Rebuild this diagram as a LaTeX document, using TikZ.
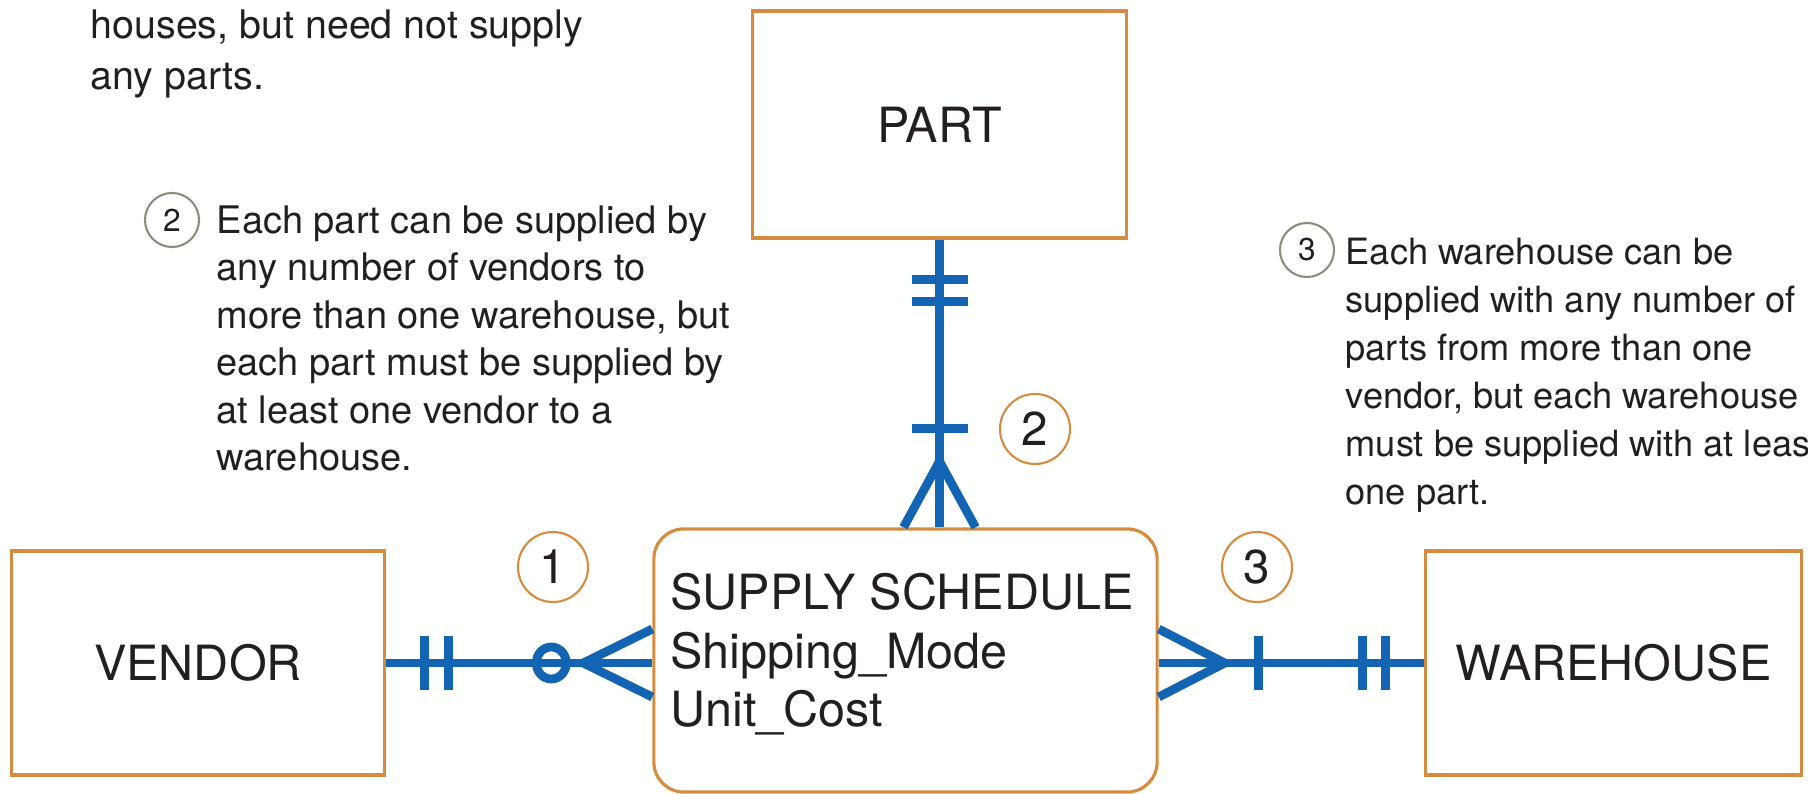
\documentclass[tikz,border=0pt]{standalone}
\usepackage{fontspec}
\setmainfont{TeX Gyre Heros}
\usetikzlibrary{calc}

\definecolor{erblue}{RGB}{20,100,180}
\definecolor{erorange}{RGB}{214,140,64}
\definecolor{notegray}{RGB}{140,140,128}
\definecolor{ink}{RGB}{35,31,32}

\tikzset{
  entity/.style={draw=erorange, line width=0.9pt, text=ink,
    font=\fontsize{13.8}{16.6}\selectfont},
  rel/.style={draw=erblue, line width=2.5pt, line join=round},
  num/.style={circle, draw=erorange, line width=0.6pt, minimum size=0.7cm,
    inner sep=0pt, text=ink, font=\fontsize{13.5}{16}\selectfont},
  notenum/.style={circle, draw=notegray, line width=0.6pt, minimum size=0.54cm,
    inner sep=0pt, text=ink, font=\fontsize{9}{11}\selectfont},
  note/.style={anchor=north west, inner sep=0pt, align=left, text=ink,
    font=\fontsize{10.8}{13.5}\selectfont}
}

\begin{document}
\begin{tikzpicture}[x=0.01cm, y=-0.01cm]
  \path[use as bounding box, fill=white] (0,0) rectangle (1808,794);

  % entities
  \node[entity, minimum width=3.73cm, minimum height=2.27cm] (part) at (939.5,124.5) {PART};
  \node[entity, minimum width=3.73cm, minimum height=2.24cm] (vendor) at (198,663) {VENDOR};
  \node[entity, minimum width=3.75cm, minimum height=2.24cm] (warehouse) at (1613.5,663) {WAREHOUSE};
  \node[entity, rounded corners=0.3cm, minimum width=5.03cm, minimum height=2.63cm] (sched) at (905.5,660.5) {};
  \node[entity, draw=none, anchor=north west, inner sep=0pt, align=left] (schedtxt) at (669,572)
    {SUPPLY SCHEDULE\\Shipping\_Mode\\Unit\_Cost};

  % relationship lines
  \coordinate (ps) at (part.south |- sched.north);
  \coordinate (vs) at (vendor.east -| sched.west);
  \coordinate (ws) at (warehouse.west -| sched.east);
  \draw[rel] (part.south) -- (ps);
  \draw[rel] (vendor.east) -- (vs);
  \draw[rel] (ws) -- (warehouse.west);

  % PART side: one and only one / one or many
  \foreach \d in {40,62}
    \draw[rel] ($(part.south)+(-28,\d)$) -- ++(56,0);
  \draw[rel] ($(ps)+(-28,-99)$) -- ++(56,0);
  \draw[rel] ($(ps)+(-36,0)$) -- ($(ps)+(0,-66)$) -- ($(ps)+(36,0)$);

  % VENDOR side: one and only one / zero or many
  \foreach \d in {38,62}
    \draw[rel] ($(vendor.east)+(\d,-27)$) -- ++(0,54);
  \draw[rel] ($(vs)+(-101,0)$) circle[x radius=0.15cm, y radius=0.16cm];
  \draw[rel] ($(vs)+(0,-34)$) -- ($(vs)+(-69,0)$) -- ($(vs)+(0,34)$);

  % WAREHOUSE side: one or many / one and only one
  \draw[rel] ($(ws)+(0,-34)$) -- ($(ws)+(66,0)$) -- ($(ws)+(0,34)$);
  \draw[rel] ($(ws)+(100,-27)$) -- ++(0,54);
  \foreach \d in {39,62}
    \draw[rel] ($(warehouse.west)+(-\d,-27)$) -- ++(0,54);

  % numbered callouts
  \node[num] (c1) at (553,567) {1};
  \node[num] (c2) at (1035,429) {2};
  \node[num] (c3) at (1257,567) {3};

  % notes
  \node[note, font=\fontsize{11.2}{14.5}\selectfont] (n1txt) at (90,9)
    {houses, but need not supply\\any parts.};
  \node[notenum] (n2num) at (172,220) {2};
  \node[note] (n2txt) at (216,205)
    {Each part can be supplied by\\any number of vendors to\\more than one warehouse, but\\each part must be supplied by\\at least one vendor to a\\warehouse.};
  \node[notenum] (n3num) at (1307,250) {3};
  \node[note, font=\fontsize{10.3}{13.65}\selectfont] (n3txt) at (1345,237)
    {Each warehouse can be\\supplied with any number of\\parts from more than one\\vendor, but each warehouse\\must be supplied with at least\\one part.};
\end{tikzpicture}
\end{document}
